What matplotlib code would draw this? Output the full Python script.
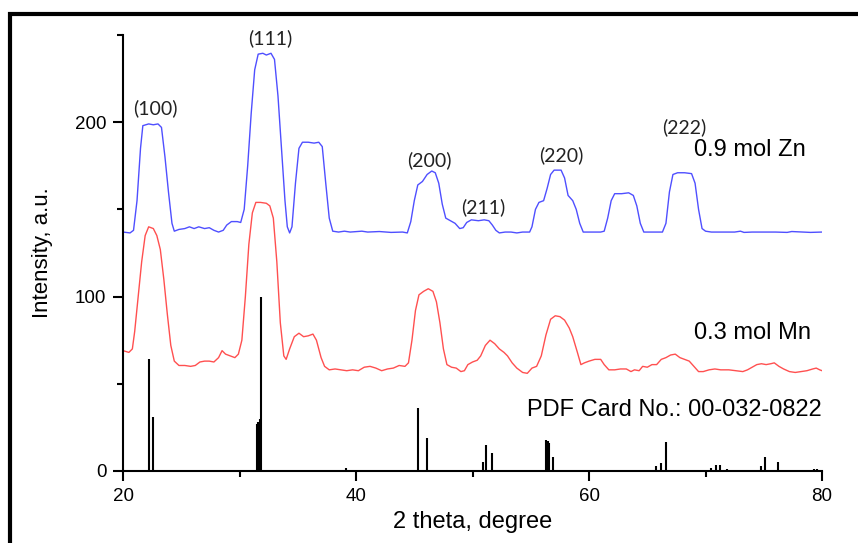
import matplotlib
matplotlib.use("Agg")
import matplotlib.pyplot as plt
from matplotlib.lines import Line2D
from matplotlib.ticker import MultipleLocator

plt.rcParams.update({
    "font.family": ["Liberation Sans", "DejaVu Sans"],
    "axes.linewidth": 1.5,
})

# 0.9 mol Zn pattern (blue)
zn_theta = [20.0, 20.6, 20.9, 21.2, 21.5, 21.7, 22.2, 22.6, 23.0, 23.3, 23.6, 23.9, 24.2, 24.4,
            24.8, 25.3, 25.7, 26.1, 26.5, 27.0, 27.4, 27.8, 28.2, 28.6, 28.9, 29.3, 29.8, 30.1,
            30.4, 30.7, 31.0, 31.3, 31.6, 32.0, 32.3, 32.7, 33.0, 33.3, 33.6, 33.9, 34.1, 34.3,
            34.5, 34.8, 35.1, 35.4, 35.9, 36.4, 36.8, 37.1, 37.4, 37.7, 38.0, 38.5, 39.0, 39.5,
            40.5, 41.0, 42.0, 43.0, 44.0, 44.4, 44.7, 45.0, 45.3, 45.7, 46.1, 46.5, 46.8, 47.1,
            47.4, 47.7, 48.1, 48.5, 48.9, 49.2, 49.5, 49.9, 50.5, 51.0, 51.4, 51.7, 52.0, 52.3,
            52.8, 53.3, 53.8, 54.3, 54.9, 55.1, 55.4, 55.7, 56.1, 56.4, 56.7, 57.0, 57.6, 57.9,
            58.2, 58.6, 58.9, 59.2, 59.5, 60.0, 60.5, 61.0, 61.3, 61.6, 61.9, 62.2, 62.8, 63.4,
            63.8, 64.1, 64.4, 64.7, 65.5, 66.3, 66.6, 66.9, 67.2, 67.6, 68.2, 68.8, 69.1, 69.4,
            69.7, 70.0, 70.5, 71.5, 72.5, 73.0, 73.3, 74.0, 75.0, 76.0, 77.0, 77.4, 78.5, 79.0,
            80.0]
zn_int = [137, 136.5, 138, 155, 185, 198, 199, 198.5, 199, 197, 180, 160, 142, 137.5,
          138.5, 139, 140, 139, 140, 139, 139.5, 138, 137, 138, 141, 143, 143, 142.5,
          150, 175, 205, 230, 239, 239.5, 238.5, 239.5, 236, 215, 185, 155, 140, 136.5,
          140, 165, 185, 188.5, 188.5, 188, 188.5, 186, 165, 145, 137.5, 137, 137.5, 137,
          137.5, 137, 137.3, 136.8, 137, 136.5, 143, 155, 164, 166, 170, 172, 171, 165,
          153, 145, 143.5, 142, 139, 139.5, 142.5, 144, 143.5, 144, 143.5, 141, 138, 136.5,
          137, 137, 136.5, 137, 137, 140, 150, 154, 155, 162, 170, 172.5, 172.5, 168,
          158, 155, 150, 142, 137, 137, 137, 137, 137.5, 145, 155, 159, 159, 159.5,
          158, 152, 142, 137, 137, 137, 142, 160, 170, 171, 171, 170.5, 165, 150,
          139, 137.5, 137, 137, 137, 137.5, 136.8, 137, 137, 137, 136.8, 137.3, 137, 136.8,
          137]

# 0.3 mol Mn pattern (red)
mn_theta = [20.0, 20.5, 20.8, 21.0, 21.3, 21.6, 21.9, 22.2, 22.6, 22.9, 23.2, 23.5, 23.8, 24.1,
            24.4, 24.8, 25.3, 25.8, 26.2, 26.6, 27.0, 27.4, 27.8, 28.2, 28.5, 28.8, 29.2, 29.6,
            29.9, 30.2, 30.5, 30.8, 31.1, 31.4, 31.8, 32.3, 32.6, 32.9, 33.2, 33.5, 33.8, 34.0,
            34.3, 34.7, 35.1, 35.5, 35.9, 36.3, 36.6, 37.0, 37.3, 37.7, 38.2, 38.7, 39.2, 39.7,
            40.2, 40.7, 41.2, 41.7, 42.2, 42.7, 43.2, 43.7, 44.2, 44.5, 44.8, 45.1, 45.4, 45.8,
            46.2, 46.6, 46.9, 47.2, 47.5, 47.8, 48.2, 48.6, 49.0, 49.3, 49.6, 50.0, 50.4, 50.7,
            51.1, 51.5, 51.9, 52.3, 52.7, 53.0, 53.4, 53.8, 54.3, 54.7, 55.1, 55.5, 55.9, 56.3,
            56.7, 57.1, 57.5, 57.9, 58.3, 58.6, 59.0, 59.3, 59.6, 60.0, 60.5, 61.0, 61.3, 61.7,
            62.2, 62.7, 63.2, 63.6, 63.9, 64.3, 64.6, 65.0, 65.4, 65.8, 66.2, 66.6, 67.0, 67.4,
            67.8, 68.2, 68.6, 69.0, 69.4, 69.8, 70.3, 70.8, 71.3, 72.0, 72.6, 73.2, 73.6, 74.0,
            74.4, 74.8, 75.2, 75.6, 75.9, 76.3, 76.7, 77.2, 77.7, 78.2, 78.7, 79.2, 79.5, 79.8,
            80.0]
mn_int = [69, 68, 70, 80, 100, 120, 135, 140, 139, 135, 127, 110, 90, 72,
          63, 60.5, 60.5, 60, 60.5, 62.5, 63, 63, 62.5, 65, 69, 67, 66, 65,
          67, 75, 100, 130, 148, 154, 154, 153.5, 152, 145, 120, 85, 66, 64,
          70, 77, 79, 77, 77.5, 78.5, 75, 65, 60, 58, 58.5, 58, 57.5, 58,
          57.5, 59.5, 60, 59, 57.5, 58.5, 59, 60.5, 60, 62, 75, 92, 101, 103,
          104.5, 103, 97, 85, 70, 61, 59.5, 59, 57, 57.5, 61, 62.5, 63.5, 66,
          72, 75, 73, 70, 68, 66, 62, 59, 56.5, 56, 59, 60, 66, 78,
          87, 89, 88.5, 86.5, 82, 77, 68, 61, 62, 63, 64, 64, 61, 58,
          58, 58.5, 58.5, 57, 58, 57.5, 60, 59.5, 61, 61, 64, 65, 66.5, 67,
          65, 64, 63, 60, 57, 57, 58, 58.5, 58, 58, 57.5, 57, 58, 59.5,
          61, 61.5, 61, 61.5, 62, 60, 58.5, 57, 56.5, 57, 57.5, 58.5, 59, 58,
          57.5]

# reference lines, PDF card 00-032-0822
pdf_theta = [22.27, 22.6, 31.5, 31.6, 31.72, 31.85, 39.1, 45.35, 46.07, 50.93, 51.16, 51.67,
             56.3, 56.45, 56.6, 56.94, 65.75, 66.2, 66.6, 70.5, 70.9, 71.25, 71.8, 74.77,
             75.1, 76.2, 79.3, 79.6]
pdf_int = [64, 31, 27, 28, 30, 100, 1.5, 36, 19, 5.4, 15, 10.5,
           18, 17, 16, 8.2, 2.9, 4.4, 16.8, 1.5, 3.4, 3.4, 1, 2.9,
           8.2, 5.4, 1, 1]

# Miller indices
hkl_labels = ["(100)", "(111)", "(200)", "(211)", "(220)", "(222)"]
hkl_x = [22.75, 32.6, 46.3, 50.95, 57.6, 68.2]
hkl_y = [208, 248, 178, 151, 181, 197]

fig = plt.figure(figsize=(8.58, 5.43), dpi=100)
ax = fig.add_axes([0.1434, 0.1326, 0.8147, 0.803])

ax.plot(zn_theta, zn_int, color="#4f4fff", lw=1.0)
ax.plot(mn_theta, mn_int, color="#ff5050", lw=1.0)
ax.vlines(pdf_theta, 0, pdf_int, color="black", lw=1.5)

for lab, x, y in zip(hkl_labels, hkl_x, hkl_y):
    ax.text(x, y, lab, ha="center", va="center", fontsize=14,
            family=["Lato", "DejaVu Sans"], color="#222222", clip_on=False)

ax.text(73.8, 184, "0.9 mol Zn", ha="center", va="center", fontsize=17)
ax.text(74.0, 79, "0.3 mol Mn", ha="center", va="center", fontsize=17)
ax.text(80, 35, "PDF Card No.: 00-032-0822", ha="right", va="center", fontsize=17)

ax.set_xlim(20, 80)
ax.set_ylim(0, 250)
ax.spines["top"].set_visible(False)
ax.spines["right"].set_visible(False)
ax.xaxis.set_major_locator(MultipleLocator(20))
ax.xaxis.set_minor_locator(MultipleLocator(10))
ax.yaxis.set_major_locator(MultipleLocator(100))
ax.yaxis.set_minor_locator(MultipleLocator(50))
ax.tick_params(which="major", direction="out", length=7, width=1.5, labelsize=13.5, pad=5)
ax.tick_params(which="minor", direction="out", length=4, width=1.5)

ax.set_xlabel("2 theta, degree", fontsize=17, va="top")
ax.set_ylabel("Intensity, a.u.", fontsize=16)
ax.xaxis.set_label_coords(0.5, -0.092)
ax.yaxis.set_label_coords(-0.1, 0.5)

# black frame around the picture (top and left edges)
fig.add_artist(Line2D([10 / 858, 10 / 858, 1.0], [0.0, 1 - 14 / 543, 1 - 14 / 543],
                      transform=fig.transFigure, color="black", lw=3,
                      solid_joinstyle="miter"))

fig.savefig("out.png", dpi=100)
